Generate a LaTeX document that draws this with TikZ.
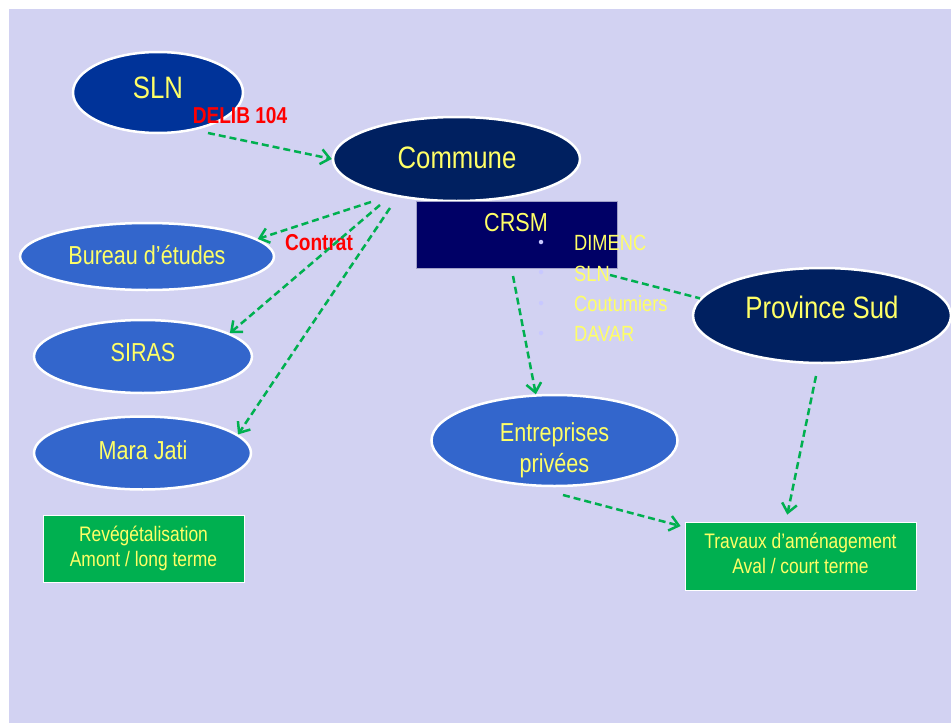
\documentclass[tikz,border=0pt]{standalone}
\usepackage{fontspec}
\setmainfont[FakeStretch=0.83]{Liberation Sans}
\usetikzlibrary{shapes.geometric,arrows.meta}
\definecolor{bgc}{RGB}{210,210,242}
\definecolor{slnblue}{RGB}{0,51,153}
\definecolor{navyc}{RGB}{0,32,96}
\definecolor{crsmblue}{RGB}{0,0,102}
\definecolor{midblue}{RGB}{51,102,204}
\definecolor{boxgreen}{RGB}{0,176,80}
\definecolor{txtyellow}{RGB}{255,255,102}
\definecolor{bulletc}{RGB}{200,200,255}
\definecolor{crsmedge}{RGB}{160,160,200}
\begin{document}
\begin{tikzpicture}[x=1pt,y=-1pt,
 oval/.style={ellipse, draw=white, line width=2.5pt, inner sep=0pt},
 ovaltext/.style={text=txtyellow, inner sep=0pt, align=center},
 bigf/.style={font=\fontsize{31}{37}\selectfont},
 midf/.style={font=\fontsize{26}{31}\selectfont},
 redlbl/.style={text=red, font=\fontsize{23}{28}\selectfont\bfseries, inner sep=0pt},
 greenbox/.style={rectangle, fill=boxgreen, draw=white, line width=1pt, inner sep=0pt},
 greentext/.style={inner sep=0pt, text=txtyellow, align=center, font=\fontsize{21}{25}\selectfont},
 link/.style={draw=boxgreen, line width=2.5pt, dash pattern=on 7pt off 4pt, -{Straight Barb[length=9pt,width=15pt]}},
 plainlink/.style={draw=boxgreen, line width=2.5pt, dash pattern=on 7pt off 4pt},
 listitem/.style={text=txtyellow, anchor=base west, inner sep=0pt, font=\fontsize{22}{26}\selectfont},
 dotb/.style={circle, fill=bulletc, inner sep=0pt, minimum size=4.5pt}
]
\useasboundingbox (0,0) rectangle (951,723);
\fill[bgc] (9,9) rectangle (951,723);

% ellipses
\node[oval, fill=slnblue, minimum width=170pt, minimum height=81pt] (sln) at (158,92.5) {};
\node[ovaltext, bigf] (slnT) at (158,88) {SLN};

\node[oval, fill=navyc, minimum width=247pt, minimum height=84pt] (commune) at (456.5,159) {};
\node[ovaltext, bigf] (communeT) at (457,158) {Commune};

\node[oval, fill=midblue, minimum width=254pt, minimum height=67pt] (bureau) at (147,256.5) {};
\node[ovaltext, midf] (bureauT) at (147,255) {Bureau d’études};

\node[oval, fill=midblue, minimum width=218pt, minimum height=73pt] (siras) at (143,356.5) {};
\node[ovaltext, midf] (sirasT) at (143,353) {SIRAS};

\node[oval, fill=midblue, minimum width=217pt, minimum height=73pt] (mara) at (142.5,453) {};
\node[ovaltext, midf] (maraT) at (143,450) {Mara Jati};

\node[oval, fill=navyc, minimum width=258pt, minimum height=95pt] (prov) at (822,315.5) {};
\node[ovaltext, bigf] (provT) at (822,307) {Province Sud};

\node[oval, fill=midblue, minimum width=246pt, minimum height=91pt] (entrep) at (554.5,440.5) {};
\node[ovaltext, midf] (entrepT) at (554.5,450) {Entreprises\\privées};

% CRSM box
\node[rectangle, fill=crsmblue, draw=crsmedge, line width=0.8pt, inner sep=0pt, minimum width=201pt, minimum height=67pt] (crsm) at (516.5,234.5) {};
\node[ovaltext, midf] (crsmT) at (516,223) {CRSM};

% bullet list
\node[dotb] (b1) at (541,242) {};
\node[dotb] (b2) at (541,272) {};
\node[dotb] (b3) at (541,303) {};
\node[dotb] (b4) at (541,333) {};
\node[listitem] (l1) at (574,250) {DIMENC};
\node[listitem] (l2) at (574,281) {SLN};
\node[listitem] (l3) at (574,311) {Coutumiers};
\node[listitem] (l4) at (574,341) {DAVAR};

% green boxes
\node[greenbox, minimum width=201pt, minimum height=67pt] (reveg) at (143.5,548.5) {};
\node[greentext] (revegT) at (143.5,548.5) {Revégétalisation\\Amont / long terme};
\node[greenbox, minimum width=231pt, minimum height=68pt] (travaux) at (800.5,556) {};
\node[greentext] (travauxT) at (800.5,553) {Travaux d’aménagement\\Aval / court terme};

% red labels
\node[redlbl] (delib) at (240,116) {DELIB 104};
\node[redlbl] (contrat) at (319,243) {Contrat};

% connectors
\coordinate (s1) at (208,133);
\coordinate (s2) at (371,202);
\coordinate (s3) at (380,205);
\coordinate (s4) at (390,208);
\coordinate (s5) at (513,276);
\coordinate (s6) at (816,376);
\coordinate (s7) at (563,495);
\coordinate (s8) at (610,275);

\draw[link] (s1) -- (commune.west);
\draw[link] (s2) -- (bureau.9);
\draw[link] (s3) -- (siras.15);
\draw[link] (s4) -- (mara.11);
\draw[link] (s5) -- (entrep.112);
\draw[link, shorten >=7pt] (s6) -- (travaux.113);
\draw[link, shorten >=4pt] (s7) -- (travaux.166);
\draw[plainlink] (s8) -- (prov.172);
\end{tikzpicture}
\end{document}
